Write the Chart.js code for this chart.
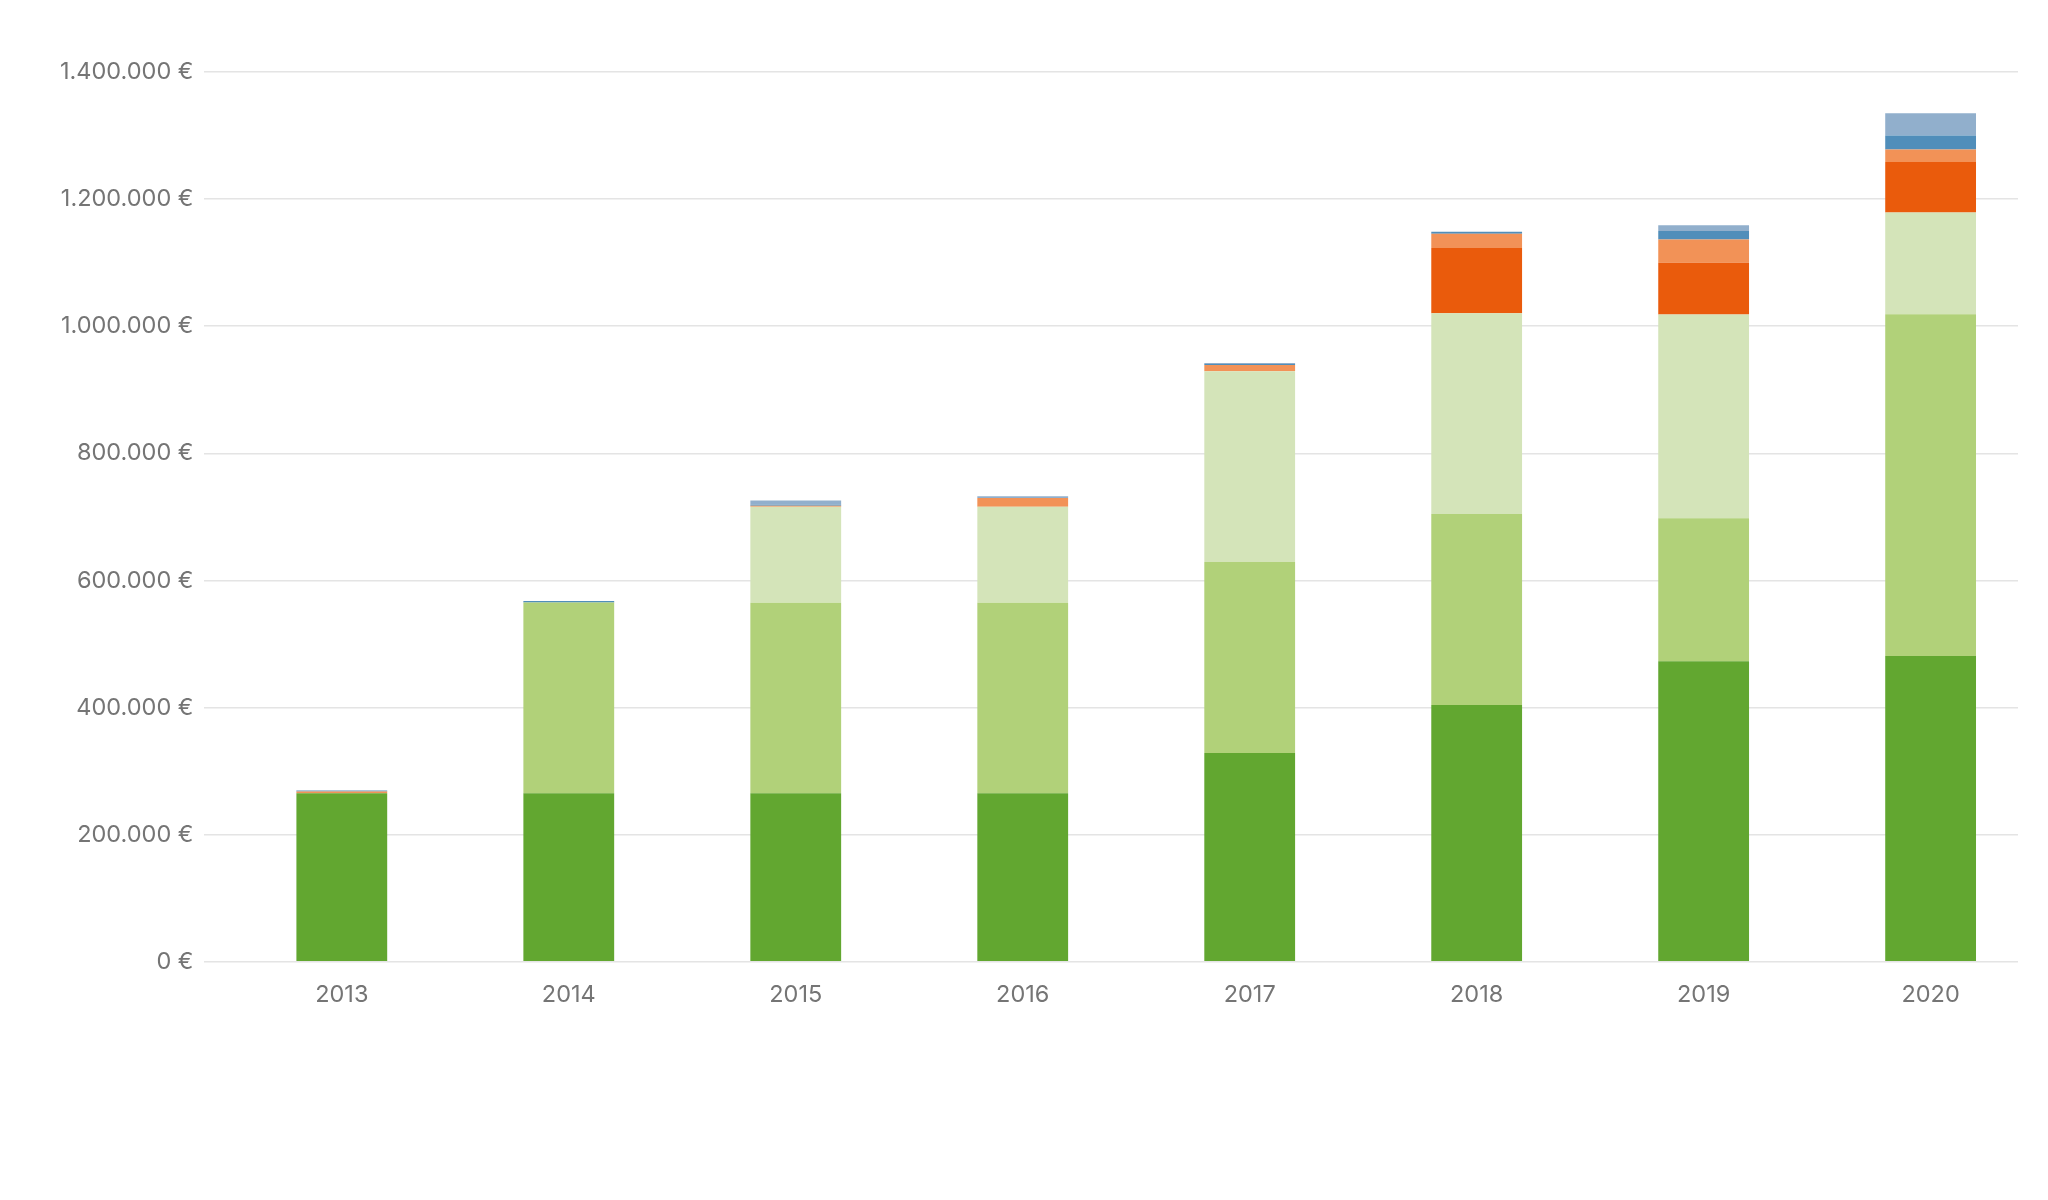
<!DOCTYPE html>
<html lang="de">
<head>
<meta charset="utf-8">
<title>Entwicklung 2013–2020</title>
<script src="https://cdn.jsdelivr.net/npm/chart.js@4.4.1/dist/chart.umd.min.js"></script>
<style>
  html, body { margin: 0; padding: 0; background: #fff; }
  #wrap { width: 2048px; height: 1200px; }
</style>
</head>
<body>
<div id="wrap"><canvas id="chart"></canvas></div>
<script>
const years = [2013, 2014, 2015, 2016, 2017, 2018, 2019, 2020];

// values in euro, bottom segment first
const seriesA = [265000, 265000, 265000, 265000, 328600, 404000, 473000, 481000];
const seriesB = [0, 300500, 300000, 300000, 300500, 300400, 225000, 538000];
const seriesC = [0, 0, 151000, 151000, 300000, 316000, 320400, 160000];
const seriesD = [0, 0, 0, 0, 0, 102600, 81300, 79500];
const seriesE = [3000, 0, 1500, 13600, 10000, 22700, 36800, 19600];
const seriesF = [1000, 2000, 1500, 0, 1500, 3000, 13500, 22000];
const seriesG = [1000, 0, 6800, 3000, 1500, 0, 8800, 35000];

const yTicks = { min: 0, max: 1400000, step: 200000 };
// the source places the bars a bit right of the category centres
const xRange = { min: 2012.395, max: 2020.385 };

function euro(v) {
  return String(Math.round(v)).replace(/\B(?=(\d{3})+(?!\d))/g, ".") + " €";
}

function ds(label, values, color) {
  return {
    label,
    data: years.map((yr, i) => ({ x: yr, y: values[i] })),
    backgroundColor: color,
    borderWidth: 0,
  };
}

document.addEventListener("DOMContentLoaded", () => {
  const ctx = document.getElementById("chart");
  new Chart(ctx, {
    type: "bar",
    data: {
      datasets: [
        ds("Serie A", seriesA, "#62a730"),
        ds("Serie B", seriesB, "#b1d179"),
        ds("Serie C", seriesC, "#d4e4b9"),
        ds("Serie D", seriesD, "#ea5b0c"),
        ds("Serie E", seriesE, "#f29257"),
        ds("Serie F", seriesF, "#508eba"),
        ds("Serie G", seriesG, "#91afcc"),
      ],
    },
    options: {
      responsive: true,
      maintainAspectRatio: false,
      animation: false,
      devicePixelRatio: 1,
      layout: { padding: { top: 72, left: 49, right: 30, bottom: 172 } },
      plugins: { legend: { display: false }, tooltip: { enabled: false } },
      datasets: { bar: { barPercentage: 0.4, categoryPercentage: 1.0 } },
      scales: {
        x: {
          type: "linear",
          stacked: true,
          offset: false,
          min: xRange.min,
          max: xRange.max,
          afterBuildTicks: (axis) => {
            axis.ticks = years.map((v) => ({ value: v }));
          },
          grid: { display: false, drawTicks: false },
          border: { display: false },
          ticks: {
            autoSkip: false,
            maxRotation: 0,
            padding: 19,
            color: "#757575",
            font: { family: "Inter", size: 23.5 },
            callback: (v) => String(v),
          },
        },
        y: {
          stacked: true,
          min: yTicks.min,
          max: yTicks.max,
          grid: { color: "#e4e4e4", lineWidth: 1.5, drawTicks: false },
          border: { display: false },
          ticks: {
            stepSize: yTicks.step,
            padding: 11,
            color: "#757575",
            font: { family: "Inter", size: 23.5 },
            callback: (v) => euro(v),
          },
        },
      },
    },
  });
});
</script>
</body>
</html>
